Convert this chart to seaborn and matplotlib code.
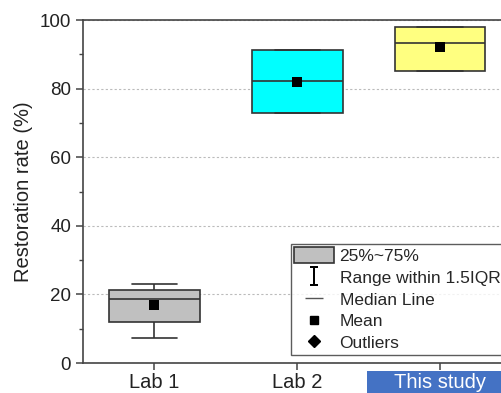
import numpy as np
import pandas as pd
import matplotlib
matplotlib.use("Agg")
import matplotlib.pyplot as plt
from matplotlib.patches import Patch, Rectangle
from matplotlib.lines import Line2D
from matplotlib.ticker import MultipleLocator
import seaborn as sns

# Box summary values
groups = ["Lab 1", "Lab 2", "This study"]
whisker_low = [7.2, 73.0, 85.1]
q1 = [12.0, 73.0, 85.1]
median = [18.6, 82.3, 93.2]
q3 = [21.2, 91.4, 98.0]
whisker_high = [23.0, 91.4, 98.0]
means = [16.8, 82.0, 92.0]
box_colors = ["#C0C0C0", "#00FFFF", "#FFFF80"]

sns.set_style("ticks")
plt.rcParams["font.family"] = ["Liberation Sans", "DejaVu Sans"]
plt.rcParams["mathtext.fontset"] = "dejavuserif"

# five-number table -> long form so the box edges land on the quartiles
rows = []
for i, g in enumerate(groups):
    for v in (whisker_low[i], q1[i], median[i], q3[i], whisker_high[i]):
        rows.append({"group": g, "value": v})
df = pd.DataFrame(rows)

fig = plt.figure(figsize=(5.02, 3.93), dpi=100)
ax = fig.add_axes([0.1653, 0.0763, 0.8536, 0.8728])

sns.boxplot(data=df, x="group", y="value", hue="group", palette=box_colors,
            saturation=1, width=0.636, whis=1.5, showfliers=False,
            linecolor="#333333", linewidth=1.2, legend=False, ax=ax,
            medianprops={"color": "#333333", "linewidth": 1.2})
sns.stripplot(x=groups, y=means, marker="s", color="black", size=7,
              jitter=False, zorder=5, ax=ax)

ax.set_xlim(-0.5, 2.5)
ax.set_ylim(0, 100)
ax.yaxis.set_major_locator(MultipleLocator(20))
ax.yaxis.set_minor_locator(MultipleLocator(10))
ax.yaxis.grid(True, which="major", linestyle=(0, (2, 2)), color="#bbbbbb", linewidth=0.8)
ax.set_axisbelow(True)

for side in ["left", "top", "bottom"]:
    ax.spines[side].set_visible(True)
    ax.spines[side].set_color("#444444")
    ax.spines[side].set_linewidth(1.2)
ax.spines["right"].set_visible(False)

ax.tick_params(axis="both", which="major", direction="out", length=5, width=1.1,
               color="#444444", labelcolor="#222222")
ax.tick_params(axis="y", labelsize=13.5)
ax.tick_params(axis="x", labelsize=14.5, pad=2)
ax.tick_params(axis="y", which="minor", direction="out", length=3, width=1.0, color="#444444")

ax.set_xlabel("")
ax.set_ylabel("Restoration rate (%)", fontsize=14.5, color="#222222", labelpad=5)

# highlighted "This study" label
ax.get_xticklabels()[2].set_color("white")
fig.patches.append(Rectangle((367 / 502, 0), 1 - 367 / 502, 1 - 371 / 393,
                             transform=fig.transFigure, facecolor="#4472C4",
                             edgecolor="none", zorder=-1))

handles = [
    Patch(facecolor="#C0C0C0", edgecolor="#333333", linewidth=1.2),
    Line2D([], [], linestyle="none", marker=r"$\mathrm{I}$", color="black",
           markersize=14, markeredgewidth=0),
    Line2D([], [], linestyle="none", marker="_", color="#555555", markersize=13,
           markeredgewidth=1.0),
    Line2D([], [], linestyle="none", marker="s", color="black", markersize=5.5),
    Line2D([], [], linestyle="none", marker="D", color="black", markersize=6),
]
labels = ["25%~75%", "Range within 1.5IQR", "Median Line", "Mean", "Outliers"]
leg = ax.legend(handles, labels, loc="upper left", bbox_to_anchor=(291 / 502, 1 - 244 / 393),
                bbox_transform=fig.transFigure, borderaxespad=0, frameon=True, fancybox=False,
                fontsize=12.5, labelspacing=0.29, handlelength=2.3, handleheight=1.0,
                handletextpad=0.3, borderpad=0.2)
leg.get_frame().set_edgecolor("#333333")
leg.get_frame().set_linewidth(1.0)

fig.savefig("out.png", dpi=100)
